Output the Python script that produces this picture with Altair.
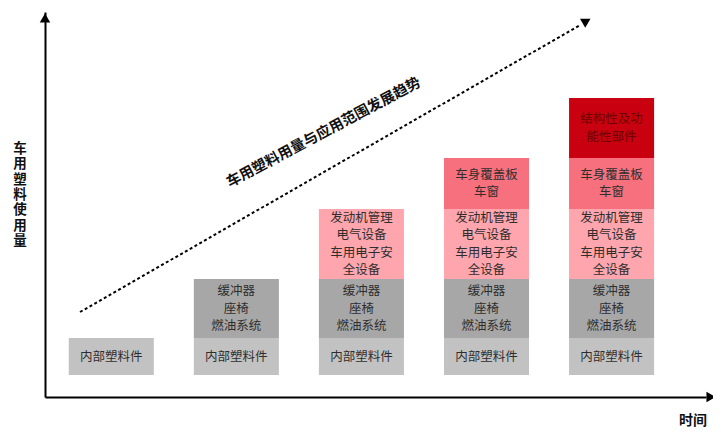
import altair as alt
import pandas as pd

# ---- data ----
stages = [1, 2, 3, 4, 5]
layer_labels = [
    "内部塑料件",
    "缓冲器\n座椅\n燃油系统",
    "发动机管理\n电气设备\n车用电子安\n全设备",
    "车身覆盖板\n车窗",
    "结构性及功\n能性部件",
]
layer_amounts = [37, 59, 70, 51, 60]
layer_colors = ["#c2c2c2", "#a7a7a7", "#ffa5ad", "#f6717d", "#c9000f"]
layer_text_colors = ["#2e2e2e", "#2e2e2e", "#2e2e2e", "#2e2e2e", "#6a0000"]

trend_x = [0.75, 4.75]
trend_y = [63, 350]
trend_label = "车用塑料用量与应用范围发展趋势"
y_title = "车用塑料使用量"
x_title = "时间"

X_DOMAIN = [0.47, 5.755]
Y_DOMAIN = [-22, 363]
HALF = 0.34
FONT = "Noto Sans CJK SC"
BLOCK_LH = 17.5
YT_LH = 15.3

rows = []
for s in stages:
    base = 0
    for i in range(s):
        top = base + layer_amounts[i]
        n = layer_labels[i].count("\n")
        rows.append(dict(x=s - HALF, x2=s + HALF, y=base, y2=top,
                         xc=s, ym=(base + top) / 2 + n * BLOCK_LH / 2,
                         label=layer_labels[i],
                         fill=layer_colors[i], tcol=layer_text_colors[i]))
        base = top
blocks = pd.DataFrame(rows)

xs = alt.Scale(domain=X_DOMAIN, nice=False, zero=False)
ys = alt.Scale(domain=Y_DOMAIN, nice=False, zero=False)
ax = alt.Axis(labels=False, ticks=False, grid=False, domainColor="black",
              domainWidth=2, title="")


def X(f):
    return alt.X(f, scale=xs, axis=ax, title="")


def Y(f):
    return alt.Y(f, scale=ys, axis=ax, title="")


rect = alt.Chart(blocks).mark_rect().encode(
    x=X("x:Q"), x2="x2:Q", y=Y("y:Q"), y2="y2:Q",
    color=alt.Color("fill:N", scale=None),
)

btext = alt.Chart(blocks).mark_text(
    lineBreak="\n", fontSize=12.5, lineHeight=BLOCK_LH, font=FONT,
    baseline="middle", align="center",
).encode(
    x=X("xc:Q"), y=Y("ym:Q"), text="label:N",
    color=alt.Color("tcol:N", scale=None),
)

trend = alt.Chart(pd.DataFrame({"x": trend_x, "y": trend_y})).mark_line(
    strokeDash=[3, 2.5], strokeWidth=2, color="black"
).encode(x=X("x:Q"), y=Y("y:Q"))

arrows = pd.DataFrame({
    "x": [X_DOMAIN[0], X_DOMAIN[1] + 0.04, 4.80],
    "y": [Y_DOMAIN[1] - 6, Y_DOMAIN[0], 354],
    "shape": ["triangle-up", "triangle-right", "triangle-up"],
    "angle": [0, 0, 60],
})
arrow_pts = alt.Chart(arrows).mark_point(
    filled=True, color="black", opacity=1, size=110
).encode(
    x=X("x:Q"), y=Y("y:Q"),
    shape=alt.Shape("shape:N", scale=None),
    angle=alt.Angle("angle:Q", scale=None),
)

ttext = alt.Chart(pd.DataFrame({"x": [2.70], "y": [242], "t": [trend_label]})).mark_text(
    angle=332, fontSize=14.5, fontWeight="bold", font=FONT, color="#111111",
    align="center", baseline="middle",
).encode(x=X("x:Q"), y=Y("y:Q"), text="t:N")

ylab = alt.Chart(pd.DataFrame({"x": [0.27], "y": [180 + (len(y_title) - 1) * YT_LH / 2],
                               "t": ["\n".join(y_title)]})).mark_text(
    lineBreak="\n", lineHeight=YT_LH, fontSize=13.5, fontWeight="bold", font=FONT,
    color="#111111", align="center", baseline="middle",
).encode(x=X("x:Q"), y=Y("y:Q"), text="t:N")

xlab = alt.Chart(pd.DataFrame({"x": [5.652], "y": [-46], "t": [x_title]})).mark_text(
    fontSize=14, fontWeight="bold", font=FONT, color="#111111",
    align="center", baseline="middle",
).encode(x=X("x:Q"), y=Y("y:Q"), text="t:N")

chart = alt.layer(rect, btext, trend, arrow_pts, ttext, ylab, xlab).properties(
    width=661, height=385,
    autosize=alt.AutoSizeParams(type="none"),
    padding={"left": 37, "top": 4, "right": 7, "bottom": 32},
    background="white",
).configure_view(stroke=None)

chart.save("out.html", embed_options={"renderer": "svg", "actions": False})
